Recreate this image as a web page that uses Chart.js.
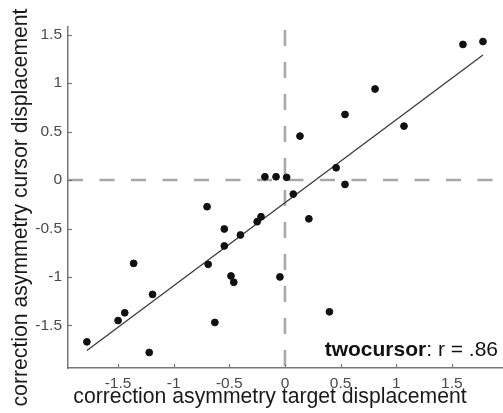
<!DOCTYPE html>
<html>
<head>
<meta charset="utf-8">
<script src="https://cdn.jsdelivr.net/npm/chart.js@4"></script>
<style>
  html, body { margin: 0; padding: 0; background: #fff; }
  #wrap { width: 503px; height: 413px; }
</style>
</head>
<body>
<div id="wrap"><canvas id="scatterChart"></canvas></div>
<script>
// data
var targetAsym = [-1.78, -1.50, -1.44, -1.36, -1.19, -1.22, -0.70, -0.69, -0.545, -0.545,
                  -0.40, -0.25, -0.215, -0.18, -0.08, 0.015, 0.075, 0.215, -0.485, -0.46,
                  -0.045, -0.63, 0.40, 0.135, 0.54, 0.81, 1.07, 1.60, 1.78, 0.46, 0.54];
var cursorAsym = [-1.67, -1.45, -1.37, -0.86, -1.18, -1.78, -0.275, -0.87, -0.505, -0.68,
                  -0.567, -0.43, -0.378, 0.034, 0.034, 0.028, -0.145, -0.40, -0.99, -1.055,
                  -1.00, -1.47, -1.36, 0.454, 0.677, 0.94, 0.557, 1.40, 1.43, 0.127, -0.045];
var fitX = [-1.78, 1.78];
var fitY = [-1.76, 1.29];
var xTicks = [-1.5, -1, -0.5, 0, 0.5, 1, 1.5];
var yTicks = [-1.5, -1, -0.5, 0, 0.5, 1, 1.5];
var xRange = [-1.95, 1.96];
var yRange = [-1.94, 1.58];
var xTitle = 'correction asymmetry target displacement';
var yTitle = 'correction asymmetry cursor displacement';
var condName = 'twocursor';
var rText = ': r = .86';

var pts = targetAsym.map(function (x, i) { return { x: x, y: cursorAsym[i] }; });
var fit = fitX.map(function (x, i) { return { x: x, y: fitY[i] }; });

var FONT = '"Liberation Sans", Arial, sans-serif';

// titles, annotation and inward tick marks
var extras = {
    id: 'extras',
    afterDraw: function (chart) {
        var c = chart.ctx;
        var xs = chart.scales.x, ys = chart.scales.y;
        var area = chart.chartArea;
        c.save();
        c.strokeStyle = '#777';
        c.lineWidth = 1.2;
        xTicks.forEach(function (v) {
            var px = Math.round(xs.getPixelForValue(v)) + 0.5;
            c.beginPath(); c.moveTo(px, area.bottom); c.lineTo(px, area.bottom - 4); c.stroke();
        });
        yTicks.forEach(function (v) {
            var py = Math.round(ys.getPixelForValue(v)) + 0.5;
            c.beginPath(); c.moveTo(area.left, py); c.lineTo(area.left + 4, py); c.stroke();
        });

        c.fillStyle = '#1a1a1a';
        c.font = '21.2px ' + FONT;
        c.textBaseline = 'alphabetic';
        c.textAlign = 'center';
        c.fillText(xTitle, 270, 403);
        c.save();
        c.translate(27, 207.5);
        c.rotate(-Math.PI / 2);
        c.fillText(yTitle, 0, 0);
        c.restore();

        c.textAlign = 'left';
        c.font = '21px ' + FONT;
        var w2 = c.measureText(rText).width;
        c.font = 'bold 21px ' + FONT;
        var w1 = c.measureText(condName).width;
        var x0 = 498 - w1 - w2;
        c.fillStyle = '#111';
        c.fillText(condName, x0, 356);
        c.font = '21px ' + FONT;
        c.fillText(rText, x0 + w1, 356);
        c.restore();
    }
};

var ctx = document.getElementById('scatterChart').getContext('2d');
var scatterChart = new Chart(ctx, {
    type: 'scatter',
    data: {
        datasets: [{
            label: 'participants',
            data: pts,
            backgroundColor: '#111',
            borderColor: '#111',
            pointRadius: 3.4,
            pointHoverRadius: 3.4,
            order: 0
        }, {
            label: 'fit',
            data: fit,
            showLine: true,
            borderColor: '#3a3a3a',
            borderWidth: 1.3,
            pointRadius: 0,
            order: 1
        }, {
            label: 'zero x',
            data: [{ x: xRange[0], y: 0 }, { x: xRange[1], y: 0 }],
            showLine: true,
            borderColor: '#a8a8a8',
            borderWidth: 2.6,
            borderDash: [15, 16.5],
            pointRadius: 0,
            order: 2
        }, {
            label: 'zero y',
            data: [{ x: 0, y: yRange[1] - 0.03 }, { x: 0, y: yRange[0] }],
            showLine: true,
            borderColor: '#a8a8a8',
            borderWidth: 2.6,
            borderDash: [16, 16],
            pointRadius: 0,
            order: 2
        }]
    },
    options: {
        responsive: true,
        maintainAspectRatio: false,
        animation: false,
        devicePixelRatio: 1,
        layout: { autoPadding: false, padding: { top: 27, right: 0, left: 0, bottom: 0 } },
        plugins: {
            legend: { display: false },
            tooltip: { enabled: false }
        },
        scales: {
            x: {
                type: 'linear',
                min: xRange[0],
                max: xRange[1],
                grid: { display: false, drawTicks: false },
                border: { display: true, color: '#777', width: 1.5 },
                ticks: {
                    includeBounds: false,
                    padding: 6,
                    color: '#4a4a4a',
                    font: { family: FONT, size: 15.5 },
                    callback: function (v) { return String(v); }
                },
                afterBuildTicks: function (s) { s.ticks = xTicks.map(function (v) { return { value: v }; }); },
                afterFit: function (s) { s.height = 45; s.paddingLeft = 0; s.paddingRight = 0; }
            },
            y: {
                type: 'linear',
                min: yRange[0],
                max: yRange[1],
                grid: { display: false, drawTicks: false },
                border: { display: true, color: '#777', width: 1.5 },
                ticks: {
                    includeBounds: false,
                    padding: 6,
                    color: '#4a4a4a',
                    font: { family: FONT, size: 15.5 },
                    callback: function (v) { return String(v); }
                },
                afterBuildTicks: function (s) { s.ticks = yTicks.map(function (v) { return { value: v }; }); },
                afterFit: function (s) { s.width = 68; s.paddingTop = 0; s.paddingBottom = 0; }
            }
        }
    },
    plugins: [extras]
});
</script>
</body>
</html>
